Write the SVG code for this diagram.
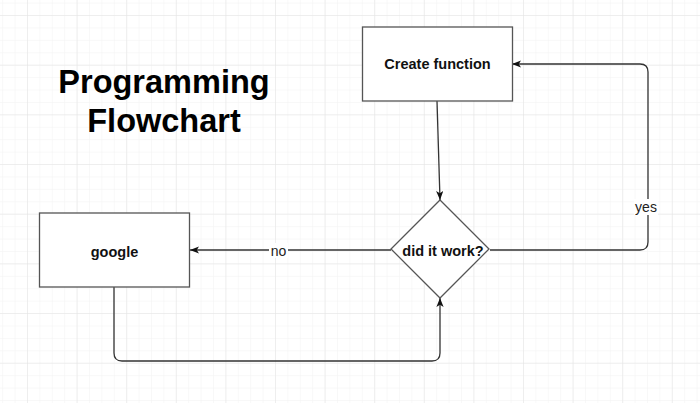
<svg xmlns="http://www.w3.org/2000/svg" width="700" height="403" viewBox="0 0 700 403">
  <style>
    .box { fill: #ffffff; stroke: #555555; stroke-width: 1.3; }
    .edge { fill: none; stroke: #333333; stroke-width: 1.3; }
    .node-label { font-family: "Liberation Sans", Arial, sans-serif; font-weight: bold; font-size: 14.5px; fill: #111111; text-anchor: middle; dominant-baseline: central; }
    .edge-label { font-family: "Liberation Sans", Arial, sans-serif; font-size: 14px; fill: #222222; text-anchor: middle; dominant-baseline: central; }
    .title { font-family: "Liberation Sans", Arial, sans-serif; font-weight: bold; font-size: 32.5px; fill: #000000; text-anchor: middle; }
  </style>
  <defs>
    <pattern id="minor" x="2.2" y="2.6" width="12.4" height="12.42" patternUnits="userSpaceOnUse">
      <path d="M0,0 L12.4,0 M0,0 L0,12.42" fill="none" stroke="#f2f2f2" stroke-width="1"/>
    </pattern>
    <pattern id="major" x="27" y="15" width="49.6" height="49.67" patternUnits="userSpaceOnUse">
      <path d="M0,0 L49.6,0 M0,0 L0,49.67" fill="none" stroke="#e4e4e4" stroke-width="1"/>
    </pattern>
    <marker id="arrow" viewBox="0 0 10 8" refX="10" refY="4" markerWidth="9" markerHeight="7.5" markerUnits="userSpaceOnUse" orient="auto">
      <path d="M0,0 L10,4 L0,8 L2.5,4 Z" fill="#111111"/>
    </marker>
  </defs>

  <rect width="700" height="403" fill="#ffffff"/>
  <rect width="700" height="403" fill="url(#minor)"/>
  <rect width="700" height="403" fill="url(#major)"/>

  <g id="title">
    <text class="title" x="164" y="93">Programming</text>
    <text class="title" x="164" y="132">Flowchart</text>
  </g>

  <g id="connectors">
    <path class="edge" d="M437,101 L440,200" marker-end="url(#arrow)"/>
    <path class="edge" d="M391,250 L190,250" marker-end="url(#arrow)"/>
    <path class="edge" d="M490,250 L640,250 Q648,250 648,242 L648,72 Q648,64 640,64 L512,64" marker-end="url(#arrow)"/>
    <path class="edge" d="M114,287 L114,353 Q114,361 122,361 L432,361 Q440,361 440,353 L440,298" marker-end="url(#arrow)"/>
    <rect x="269" y="243" width="19" height="15" fill="#ffffff"/>
    <text class="edge-label" x="278.5" y="251">no</text>
    <rect x="634" y="199" width="24" height="16" fill="#ffffff"/>
    <text class="edge-label" x="646" y="207">yes</text>
  </g>

  <g id="create-function">
    <rect class="box" x="362.5" y="27" width="150" height="74"/>
    <text class="node-label" x="437.5" y="64">Create function</text>
  </g>

  <g id="did-it-work">
    <polygon class="box" points="440,200 489,249 440,298 391,249"/>
    <text class="node-label" x="443" y="251">did it work?</text>
  </g>

  <g id="google">
    <rect class="box" x="39.5" y="213" width="150" height="74"/>
    <text class="node-label" x="114.5" y="252">google</text>
  </g>
</svg>
